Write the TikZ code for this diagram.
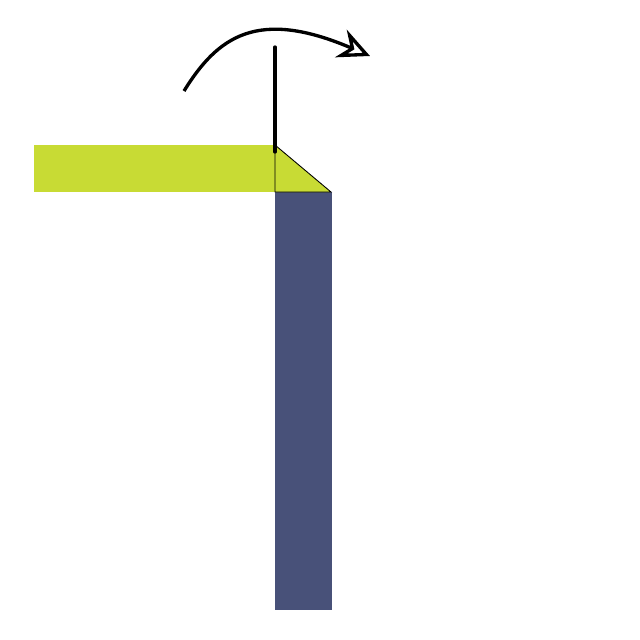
\documentclass[tikz,border=0pt]{standalone}
\usepackage{tikz}
\usetikzlibrary{arrows.meta}
\definecolor{Barverde}{RGB}{200,219,52}
\definecolor{Barazul}{RGB}{72,81,121}

\begin{document}
\begin{tikzpicture}[
  x=0.02cm, y=-0.02cm,
  borde/.style={draw=black, line width=0.5pt},
  trazo/.style={line width=1.9pt, line cap=round},
  giro/.style={-{Stealth[open, length=18pt, width=17pt, inset=6pt]}, line width=1.9pt}
]
\useasboundingbox (0,0) rectangle (640,640);

%% ---- barras ----
\fill[Barverde] (34,145) rectangle (275,192);
\fill[Barazul]  (275,192) rectangle (332,610);

%% ---- esquina doblada ----
\coordinate (esqA) at (275,145);
\coordinate (esqB) at (275,192);
\coordinate (esqC) at (331,192);
\filldraw[fill=Barverde, borde] (esqA) -- (esqB) -- (esqC) -- cycle;

%% ---- eje y flecha de giro ----
\coordinate (ejeSup) at (275,47);
\coordinate (ejeInf) at (275,152);
\draw[trazo] (ejeSup) -- (ejeInf);

\coordinate (giroIni) at (184,91);
\coordinate (giroFin) at (370,56);
\draw[giro] (giroIni) .. controls (218,36) and (258,8) .. (giroFin);

\end{tikzpicture}
\end{document}
